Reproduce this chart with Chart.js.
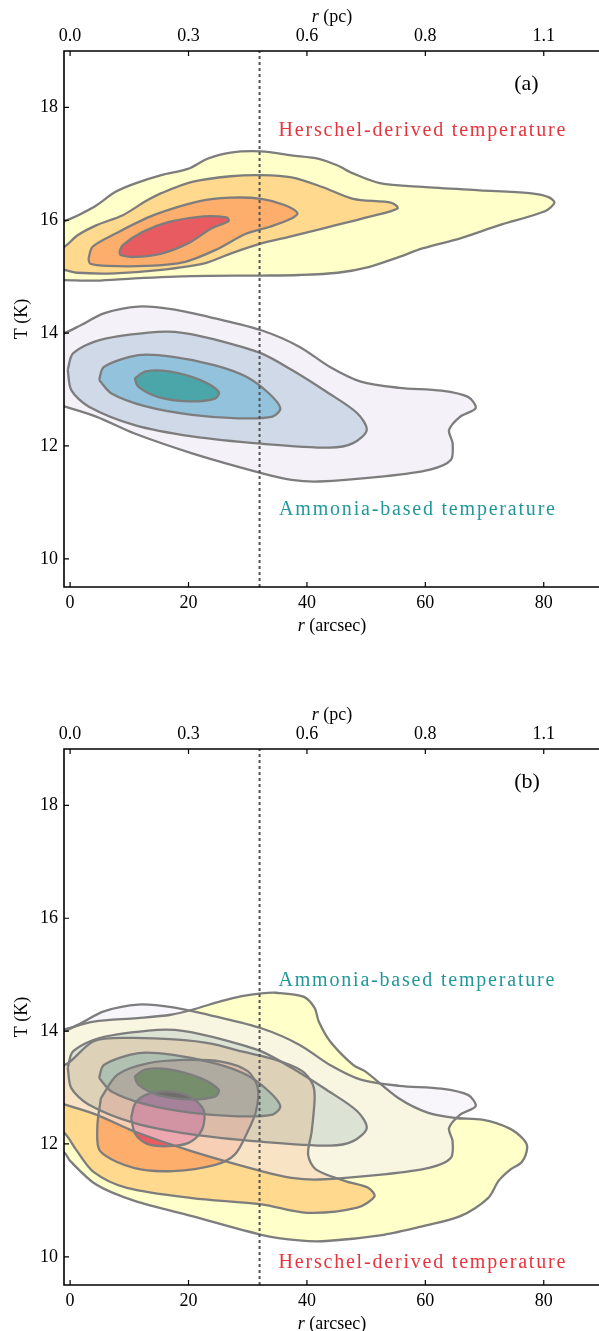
<!DOCTYPE html>
<html>
<head>
<meta charset="utf-8">
<title>Temperature vs radius</title>
<script src="https://cdn.jsdelivr.net/npm/chart.js@4.4.1/dist/chart.umd.min.js"></script>
<style>
  html, body { margin: 0; padding: 0; background: #fff; overflow: hidden; }
  .panel { position: absolute; left: 0; width: 600px; }
  #panelA { top: 0; height: 650px; }
  #panelB { top: 698px; height: 633px; }
</style>
</head>
<body>
<div class="panel" id="panelA"><canvas id="chartA" width="600" height="650"></canvas></div>
<div class="panel" id="panelB"><canvas id="chartB" width="600" height="633"></canvas></div>
<script>
// Ejes y etiquetas
const xTicks = [0, 20, 40, 60, 80];
const pcLabels = ['0.0', '0.3', '0.6', '0.8', '1.1'];
const yTicks = [10, 12, 14, 16, 18];
const rBeam = 32; // linea discontinua (arcsec)

// Contornos [r (arcsec), T (K)] - panel (a), temperatura Herschel
const herschelA1 = [[-3,15.95],[-1,15.98],[4.1,16.24],[7.6,16.5],[10.9,16.65],[15.4,16.8],[19.9,16.91],[23.2,17.09],[27.1,17.2],[32.3,17.22],[37.4,17.15],[42.0,17.09],[45.2,16.97],[47.8,16.83],[52.3,16.66],[59.5,16.59],[69.2,16.53],[77.6,16.48],[80.8,16.41],[81.8,16.31],[80.2,16.16],[72.4,15.91],[65.9,15.68],[59.5,15.5],[55.6,15.35],[50.4,15.17],[45.2,15.07],[38.7,15.03],[32.3,15.02],[20.6,15.01],[10.9,14.97],[4.4,14.93],[-1,14.94],[-3,14.94]];
const herschelA2 = [[-3,15.5],[-1,15.53],[1.2,15.73],[4.4,15.91],[8.9,16.09],[12.8,16.34],[15.4,16.48],[20.6,16.68],[27.1,16.78],[32.3,16.8],[37.4,16.76],[42.6,16.59],[47.8,16.38],[54.3,16.31],[55.3,16.21],[50.4,16.06],[43.3,15.87],[36.8,15.7],[32.3,15.59],[27.1,15.41],[22.5,15.23],[15.4,15.12],[7.6,15.06],[1.2,15.07],[-1,15.12],[-3,15.12]];
const herschelA3 = [[3.1,15.32],[3.8,15.53],[7.6,15.76],[14.1,16.09],[21.9,16.34],[27.1,16.4],[32.3,16.38],[36.2,16.27],[38.4,16.13],[37.4,16.03],[33.6,15.88],[29.7,15.76],[24.5,15.47],[19.3,15.26],[12.8,15.19],[6.4,15.19],[3.4,15.23]];
const herschelA4 = [[8.3,15.44],[8.9,15.56],[12.2,15.79],[16.7,15.97],[22.5,16.07],[26.4,16.05],[26.8,15.99],[23.8,15.85],[19.9,15.59],[15.4,15.41],[10.9,15.35],[8.6,15.38]];

// Contornos temperatura amoniaco (iguales en ambos paneles)
const ammonia1 = [[-3,13.98],[-1,14.0],[1.8,14.14],[5.7,14.35],[11.5,14.47],[17.4,14.42],[24.5,14.26],[32.3,14.05],[38.7,13.76],[43.9,13.4],[49.1,13.14],[55.6,13.03],[62.7,12.98],[67.2,12.87],[68.5,12.67],[65.9,12.52],[64,12.28],[64.6,12.05],[64.3,11.75],[60.8,11.58],[53,11.46],[42,11.37],[37.4,11.4],[32.3,11.52],[20.6,11.87],[10.9,12.22],[4.4,12.52],[-1,12.7],[-3,12.76]];
const ammonia2 = [[-0.4,13.35],[0.5,13.64],[5.1,13.88],[14.8,14.02],[19.3,14.0],[25.8,13.85],[32.3,13.64],[37.4,13.35],[43.3,12.96],[48.5,12.58],[50.1,12.28],[47.8,12.05],[43.9,11.97],[32.3,12.04],[20.6,12.17],[10.9,12.37],[3.1,12.7],[0.2,12.99]];
const ammonia3 = [[4.9,13.17],[5.7,13.4],[11.5,13.61],[17.4,13.58],[24.5,13.43],[29.7,13.23],[33.6,12.93],[35.5,12.67],[34.2,12.52],[28.4,12.49],[20.6,12.55],[12.8,12.7],[7,12.93]];
const ammonia4 = [[10.9,13.2],[12.8,13.32],[16.7,13.32],[21.9,13.17],[25.1,12.96],[24.5,12.84],[19.9,12.79],[14.8,12.87],[11.5,13.05]];

// Panel (b), temperatura Herschel
const herschelB1 = [[-3,14.0],[-1,14.03],[4,14.17],[11.4,14.23],[17,14.29],[21,14.39],[25.5,14.53],[29,14.62],[32.3,14.67],[34.8,14.68],[39.4,14.61],[41.3,14.41],[42,14.17],[43.9,13.82],[47.8,13.4],[49.8,13.29],[55.5,12.81],[60.5,12.55],[65.1,12.46],[69.6,12.43],[74.1,12.28],[76.6,12.08],[77.2,11.93],[76.3,11.68],[74.4,11.55],[72.4,11.35],[70.6,11.04],[65.9,10.72],[59.5,10.54],[53,10.39],[43.3,10.28],[38.7,10.29],[32.3,10.39],[20.6,10.72],[10.9,10.99],[4.4,11.28],[0,11.7],[-1,11.85],[-3,11.9]];
const herschelB2 = [[-3,13.35],[-0.5,13.42],[4,13.82],[9.7,13.88],[18.2,13.85],[23.8,13.78],[29,13.64],[34.5,13.5],[39.1,13.3],[41,13.05],[41.3,12.8],[40.8,12.22],[40.2,11.81],[41.5,11.55],[46.5,11.34],[50.4,11.22],[51.4,11.07],[48.5,10.87],[40,10.78],[32.3,10.93],[20.6,11.04],[9.6,11.22],[4,11.5],[1,11.9],[-1,12.2],[-3,12.3]];
const herschelB3 = [[5.2,12.81],[8,13.23],[13.1,13.43],[19.3,13.49],[25.5,13.46],[30,13.29],[31.7,12.99],[31.4,12.58],[30,12.22],[27.8,11.81],[24.5,11.63],[17.4,11.52],[10.9,11.57],[5.1,11.87],[4.6,12.3]];
const herschelB4 = [[10.3,12.46],[11,12.72],[13,12.88],[16.5,12.93],[20,12.85],[22.3,12.65],[22.7,12.45],[22,12.2],[20,12.02],[16.5,11.96],[13,12.0],[11,12.18]];

const SERIF = "'Liberation Serif', 'Times New Roman', serif";
const EDGE = '#7d7d7d';
const RED = '#e5343d';
const TEAL = '#22979a';

const herschelFill = ['#ffffc9', '#fed98e', '#fdae6d', '#e85b61'];
const ammoniaFill = ['#f5f1f8', '#d0d9e8', '#93c3dc', '#4aa6a8'];
// bandas semitransparentes del panel (b)
const ammoniaBand = ['rgba(241,238,245,0.52)', 'rgba(190,201,223,0.52)', 'rgba(98,168,211,0.5)', 'rgba(30,120,110,0.6)'];

function contourLine(points) {
  // cierra el poligono repitiendo el primer punto
  return {
    data: points.concat([points[0]]).map(p => ({x: p[0], y: p[1]})),
    fill: false,
    borderColor: EDGE,
    borderWidth: 2.3,
    pointRadius: 0,
    tension: 0.3,
  };
}

function beamLine() {
  return {
    data: [{x: rBeam, y: 9.5}, {x: rBeam, y: 19}],
    fill: false,
    borderColor: '#555',
    borderWidth: 2,
    borderDash: [3, 3],
    pointRadius: 0,
    order: -1,
  };
}

// Rellenos: usa el trazado suavizado de cada linea; 'hole' recorta la banda interior
const fillPlugin = {
  id: 'contourFill',
  beforeDatasetsDraw(chart, args, opts) {
    const {ctx, chartArea: a} = chart;
    ctx.save();
    ctx.beginPath();
    ctx.rect(a.left, a.top, a.right - a.left, a.bottom - a.top);
    ctx.clip();
    opts.layers.forEach(l => {
      const line = chart.getDatasetMeta(l.ds).dataset;
      line.updateControlPoints(a, 'x');
      ctx.beginPath();
      line.path(ctx);
      if (l.hole != null) {
        const inner = chart.getDatasetMeta(l.hole).dataset;
        inner.updateControlPoints(a, 'x');
        inner.path(ctx);
      }
      ctx.fillStyle = l.color;
      ctx.fill(l.hole != null ? 'evenodd' : 'nonzero');
    });
    ctx.restore();
  }
};

// Dibuja texto con partes en cursiva
function drawMixed(ctx, parts, cx, cy, size) {
  let w = 0;
  parts.forEach(p => {
    ctx.font = (p[1] ? 'italic ' : '') + size + 'px ' + SERIF;
    w += ctx.measureText(p[0]).width;
  });
  let xPos = cx - w / 2;
  parts.forEach(p => {
    ctx.font = (p[1] ? 'italic ' : '') + size + 'px ' + SERIF;
    ctx.fillText(p[0], xPos, cy);
    xPos += ctx.measureText(p[0]).width;
  });
}

const framePlugin = {
  id: 'frame',
  afterDraw(chart, args, opts) {
    const {ctx, chartArea: a, scales} = chart;
    const x = scales.x, y = scales.y;
    ctx.save();
    ctx.strokeStyle = '#000';
    // marcas hacia dentro
    ctx.lineWidth = 1.2;
    ctx.beginPath();
    xTicks.forEach(v => {
      const p = x.getPixelForValue(v);
      ctx.moveTo(p, a.bottom); ctx.lineTo(p, a.bottom - 5);
      ctx.moveTo(p, a.top); ctx.lineTo(p, a.top + 5);
    });
    yTicks.forEach(v => {
      const p = y.getPixelForValue(v);
      ctx.moveTo(a.left, p); ctx.lineTo(a.left + 5, p);
    });
    ctx.stroke();
    // ejes
    ctx.lineWidth = 1.6;
    ctx.beginPath();
    ctx.moveTo(a.right, a.top); ctx.lineTo(a.left, a.top);
    ctx.lineTo(a.left, a.bottom); ctx.lineTo(a.right, a.bottom);
    ctx.stroke();

    // titulos de ejes
    ctx.fillStyle = '#000';
    ctx.textBaseline = 'middle';
    ctx.textAlign = 'left';
    const cx = (a.left + a.right) / 2;
    drawMixed(ctx, [['r', true], [' (pc)', false]], cx, 17, 18);
    drawMixed(ctx, [['r', true], [' (arcsec)', false]], cx, a.bottom + 39, 18);
    ctx.save();
    ctx.translate(22, (a.top + a.bottom) / 2);
    ctx.rotate(-Math.PI / 2);
    drawMixed(ctx, [['T (K)', false]], 0, 0, 18);
    ctx.restore();

    // anotaciones
    ctx.textBaseline = 'alphabetic';
    opts.notes.forEach(n => {
      ctx.font = n.size + 'px ' + SERIF;
      ctx.fillStyle = n.color;
      ctx.letterSpacing = n.spacing || '0px';
      ctx.fillText(n.text, x.getPixelForValue(n.x), y.getPixelForValue(n.y));
    });
    ctx.letterSpacing = '0px';
    ctx.restore();
  }
};

function makeChart(id, layers, notes) {
  const tickFont = {family: SERIF, size: 18};
  const datasets = layers.map(l => contourLine(l.pts));
  datasets.push(beamLine());
  const fills = layers.map((l, i) => ({ds: i, color: l.color, hole: l.hole}));
  return new Chart(document.getElementById(id), {
    type: 'line',
    data: {datasets},
    options: {
      responsive: false,
      animation: false,
      events: [],
      layout: {padding: 0},
      plugins: {
        legend: {display: false},
        tooltip: {enabled: false},
        contourFill: {layers: fills},
        frame: {notes},
      },
      scales: {
        x: {
          type: 'linear', position: 'bottom', min: -1.03, max: 89.5,
          afterBuildTicks: s => { s.ticks = xTicks.map(v => ({value: v})); },
          afterFit: s => { s.height = s.chart.height - 587; },
          ticks: {font: tickFont, color: '#000', padding: 5, maxRotation: 0, callback: v => String(v)},
          grid: {display: false, drawTicks: false},
          border: {display: false},
        },
        x2: {
          type: 'linear', position: 'top', min: -1.03, max: 89.5,
          afterBuildTicks: s => { s.ticks = xTicks.map(v => ({value: v})); },
          afterFit: s => { s.height = 51; },
          ticks: {font: tickFont, color: '#000', padding: 4, maxRotation: 0,
                  callback: (v, i) => pcLabels[i]},
          grid: {display: false, drawTicks: false},
          border: {display: false},
        },
        y: {
          type: 'linear', position: 'left', min: 9.5, max: 19,
          afterBuildTicks: s => { s.ticks = yTicks.map(v => ({value: v})); },
          afterFit: s => { s.width = 64; },
          ticks: {font: tickFont, color: '#000', padding: 6, callback: v => String(v)},
          grid: {display: false, drawTicks: false},
          border: {display: false},
        },
      },
    },
    plugins: [fillPlugin, framePlugin],
  });
}

// Panel (a): contornos opacos
makeChart('chartA', [
  {pts: herschelA1, color: herschelFill[0]},
  {pts: herschelA2, color: herschelFill[1]},
  {pts: herschelA3, color: herschelFill[2]},
  {pts: herschelA4, color: herschelFill[3]},
  {pts: ammonia1, color: ammoniaFill[0]},
  {pts: ammonia2, color: ammoniaFill[1]},
  {pts: ammonia3, color: ammoniaFill[2]},
  {pts: ammonia4, color: ammoniaFill[3]},
], [
  {text: '(a)', x: 75.0, y: 18.3, size: 22, color: '#000'},
  {text: 'Herschel-derived temperature', x: 35.2, y: 17.5, size: 20, color: RED, spacing: '1.8px'},
  {text: 'Ammonia-based temperature', x: 35.3, y: 10.78, size: 20, color: TEAL, spacing: '1.8px'},
]);

// Panel (b): bandas de amoniaco semitransparentes sobre Herschel
makeChart('chartB', [
  {pts: herschelB1, color: herschelFill[0]},
  {pts: herschelB2, color: herschelFill[1]},
  {pts: herschelB3, color: herschelFill[2]},
  {pts: herschelB4, color: herschelFill[3]},
  {pts: ammonia1, color: ammoniaBand[0], hole: 5},
  {pts: ammonia2, color: ammoniaBand[1], hole: 6},
  {pts: ammonia3, color: ammoniaBand[2], hole: 7},
  {pts: ammonia4, color: ammoniaBand[3]},
], [
  {text: '(b)', x: 75.0, y: 18.3, size: 22, color: '#000'},
  {text: 'Ammonia-based temperature', x: 35.2, y: 14.8, size: 20, color: TEAL, spacing: '1.8px'},
  {text: 'Herschel-derived temperature', x: 35.2, y: 9.8, size: 20, color: RED, spacing: '1.8px'},
]);
</script>
</body>
</html>
